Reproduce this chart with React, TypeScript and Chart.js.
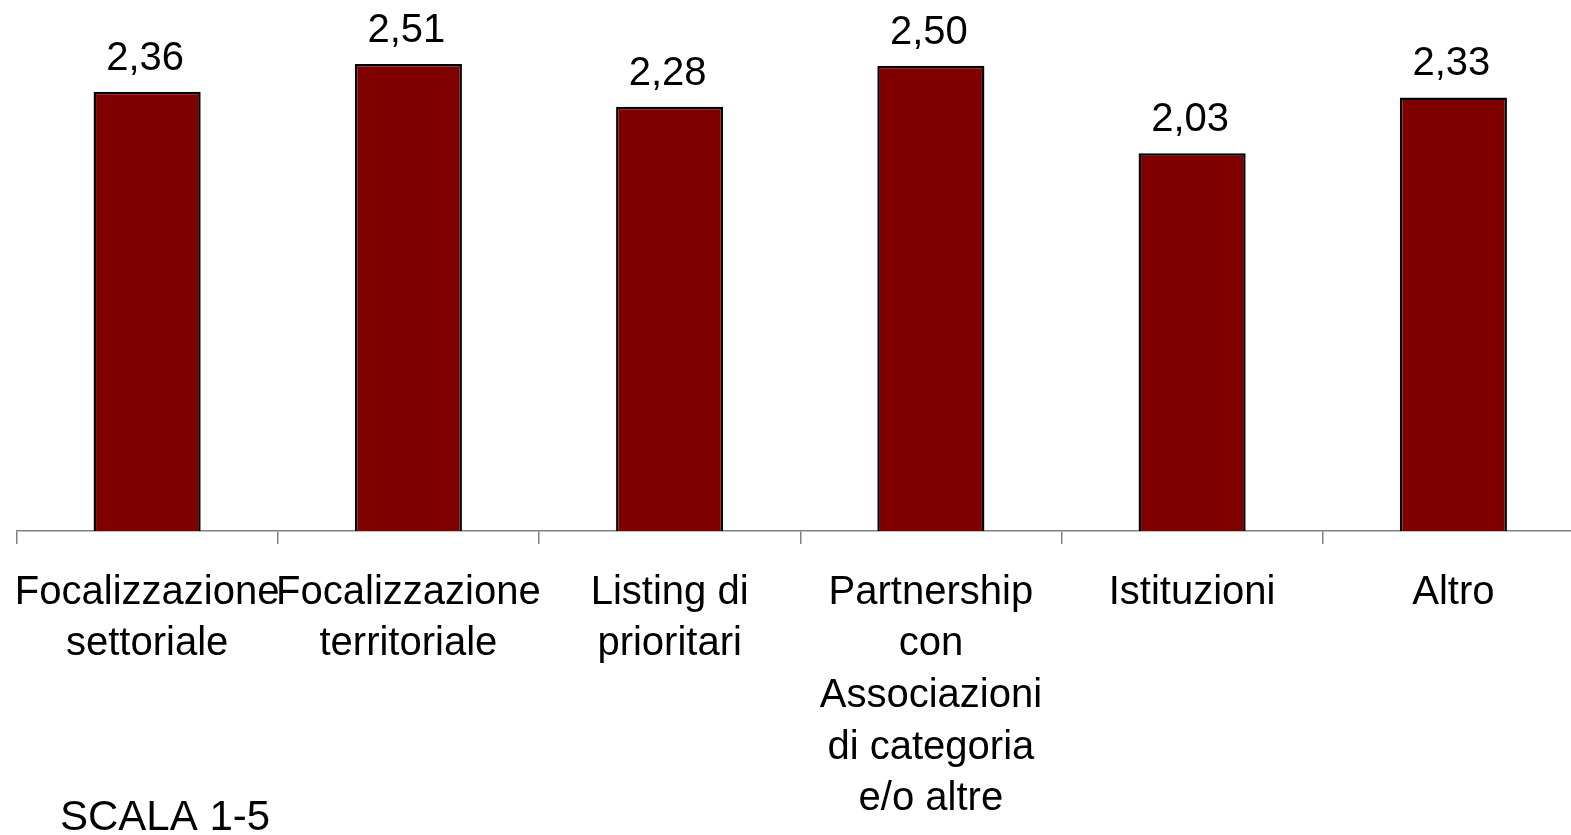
import React, { useEffect, useRef } from "react";
import { Chart, registerables } from "chart.js";

Chart.register(...registerables);

const categories: string[][] = [
  ["Focalizzazione", "settoriale"],
  ["Focalizzazione", "territoriale"],
  ["Listing di", "prioritari"],
  ["Partnership", "con", "Associazioni", "di categoria", "e/o altre"],
  ["Istituzioni"],
  ["Altro"],
];
const values: number[] = [2.36, 2.51, 2.28, 2.5, 2.03, 2.33];
const scaleNote = "SCALA 1-5";

const FONT = "'Liberation Sans', Arial, sans-serif";

export default function App() {
  const ref = useRef<HTMLCanvasElement | null>(null);
  useEffect(() => {
    if (!ref.current) return;
    const valueLabels = {
      id: "valueLabels",
      afterDatasetsDraw(chart: any) {
        const ctx = chart.ctx;
        const meta = chart.getDatasetMeta(0);
        ctx.save();
        ctx.fillStyle = "#000";
        ctx.font = `40px ${FONT}`;
        ctx.textAlign = "center";
        ctx.textBaseline = "alphabetic";
        meta.data.forEach((bar: any, i: number) => {
          const v = values[i];
          ctx.fillText(v.toFixed(2).replace(".", ","), bar.x - 2, bar.y - 22);
        });
        ctx.font = `42px ${FONT}`;
        ctx.textAlign = "left";
        ctx.fillText(scaleNote, 60, 830);
        ctx.restore();
      },
    };
    const chart = new Chart(ref.current, {
      type: "bar",
      data: {
        labels: categories,
        datasets: [
          {
            data: values,
            backgroundColor: "#800000",
            borderColor: "#000000",
            borderWidth: 2.5,
            barPercentage: 0.41,
            categoryPercentage: 1,
          },
        ],
      },
      options: {
        responsive: false,
        animation: false,
        layout: { padding: { top: 10, left: 16.5, right: 0, bottom: 0 } },
        plugins: { legend: { display: false }, tooltip: { enabled: false } },
        scales: {
          x: {
            offset: true,
            grid: {
              offset: true,
              drawOnChartArea: false,
              drawTicks: true,
              tickLength: 13,
              color: "#808080",
              lineWidth: 1.5,
            },
            border: { display: true, color: "#808080", width: 1.5 },
            ticks: {
              autoSkip: false,
              maxRotation: 0,
              minRotation: 0,
              color: "#000",
              padding: 23,
              font: { family: FONT, size: 40, lineHeight: 1.29 },
            },
            afterFit: (scale: any) => {
              scale.height = 835 - 531;
              scale.paddingLeft = 0;
              scale.paddingRight = 0;
            },
          },
          y: {
            display: false,
            min: 0,
            max: 2.8,
          },
        },
      },
      plugins: [valueLabels],
    });
    return () => chart.destroy();
  }, []);
  return (
    <div
      style={{
        position: "fixed",
        left: 0,
        top: 0,
        width: 1571,
        height: 835,
        overflow: "hidden",
        background: "#fff",
      }}
    >
      <canvas ref={ref} width={1584} height={835} />
    </div>
  );
}
